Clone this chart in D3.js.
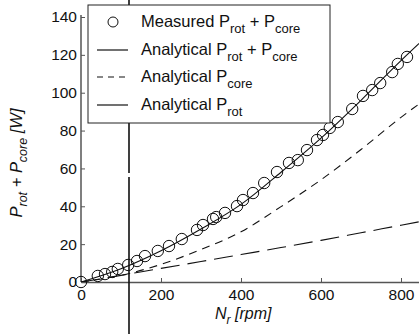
<!DOCTYPE html>
<html><head><meta charset="utf-8">
<script src="https://cdn.jsdelivr.net/npm/d3@7"></script>
<style>body{margin:0;background:#fff}svg{display:block}text{font-family:"Liberation Sans",Arial,sans-serif;fill:#111}</style>
</head><body><svg id="c" width="419" height="334"></svg>
<script>
// Measured points (rpm, W)
const measRpm = [0,42,60,78,92,118,140,160,192,220,252,290,305,330,338,360,390,405,430,458,490,520,542,565,590,605,622,642,678,705,728,748,778,792,815];
const measW   = [0,3.2,4.2,5.3,6.9,9.0,11.1,13.7,16.4,19.0,22.7,27.5,30.1,33.3,34.3,36.5,40.1,43.3,47.0,52.3,58.1,62.9,64.4,69.7,75.0,77.7,81.4,84.5,91.4,98.3,101.4,105.1,110.9,115.2,118.9];
// Analytical curves read at these speeds
const curveRpm  = [0,100,200,300,400,500,600,700,800,845];
const totalW    = [0,7,16.5,28,41,58,76,96,117,126];
const coreW     = [0,3.5,9.3,17.2,26.5,39.8,54,70,87,94];
const rotW      = [0,3.5,7.2,10.8,14.5,18.2,22,26,30,31.8];
const xTicks = [0,200,400,600,800];
const yTicks = [0,20,40,60,80,100,120,140];

const svg = d3.select("#c");
const x = d3.scaleLinear().domain([0,845]).range([81,419]);
const y = d3.scaleLinear().domain([0,140]).range([282,17]);
const axisColor = "#555";

// axes
const gx = svg.append("g").attr("transform","translate(0,282)")
  .call(d3.axisBottom(x).tickValues(xTicks).tickSize(-4).tickPadding(7).tickSizeOuter(0));
const gy = svg.append("g").attr("transform","translate(81,0)")
  .call(d3.axisLeft(y).tickValues(yTicks).tickSize(-4).tickPadding(4).tickSizeOuter(0));
[gx,gy].forEach(g=>{
  g.select(".domain").attr("stroke",axisColor).attr("stroke-width",1.5);
  g.selectAll(".tick line").attr("stroke",axisColor);
  g.selectAll(".tick text").attr("font-size",15.5).attr("fill","#111")
    .attr("font-family","Liberation Sans, Arial, sans-serif");
});
gy.select(".domain").attr("d","M0,282V15");

// scan artifact vertical line
svg.append("line").attr("x1",x(120)).attr("x2",x(120)).attr("y1",0).attr("y2",334)
  .attr("stroke","#111").attr("stroke-width",1.6).attr("stroke-dasharray","120,3,50,4,200");

const clip = svg.append("clipPath").attr("id","pc").append("rect")
  .attr("x",81).attr("y",0).attr("width",338).attr("height",282);
const plot = svg.append("g").attr("clip-path","url(#pc)");
const line = arr => d3.line().x((d,i)=>x(curveRpm[i])).y(d=>y(d)).curve(d3.curveMonotoneX)(arr);

plot.append("path").attr("d",line(rotW)).attr("fill","none").attr("stroke","#111").attr("stroke-width",1.1).attr("stroke-dasharray","19,8");
plot.append("path").attr("d",line(coreW)).attr("fill","none").attr("stroke","#111").attr("stroke-width",1.1).attr("stroke-dasharray","8,6");
plot.append("path").attr("d",line(totalW)).attr("fill","none").attr("stroke","#111").attr("stroke-width",1.1);
svg.append("g").selectAll("circle").data(measRpm).join("circle")
  .attr("cx",d=>x(d)).attr("cy",(d,i)=>y(measW[i])).attr("r",5.7)
  .attr("fill","none").attr("stroke","#111").attr("stroke-width",1);

// legend
const lg = svg.append("g");
lg.append("rect").attr("x",88).attr("y",5).attr("width",242).attr("height",118)
  .attr("fill","#fff").attr("stroke","#222").attr("stroke-width",1);
const rows = [
  {y:22, main:"Measured P", sub1:"rot", mid:" + P", sub2:"core", type:"circle"},
  {y:50, main:"Analytical P", sub1:"rot", mid:" + P", sub2:"core", type:"solid"},
  {y:77, main:"Analytical P", sub1:"core", type:"dash"},
  {y:105, main:"Analytical P", sub1:"rot", type:"solid"}
];
rows.forEach(r=>{
  if(r.type==="circle"){
    lg.append("circle").attr("cx",113).attr("cy",r.y).attr("r",5).attr("fill","none").attr("stroke","#111");
  } else {
    lg.append("line").attr("x1",97).attr("x2",128).attr("y1",r.y).attr("y2",r.y)
      .attr("stroke","#111").attr("stroke-width",1.2).attr("stroke-dasharray",r.type==="dash"?"6,5":null);
  }
  const t = lg.append("text").attr("x",141).attr("y",r.y+5).attr("font-size",16.5);
  t.append("tspan").text(r.main);
  t.append("tspan").attr("dy",6).attr("font-size",13).text(r.sub1);
  if(r.mid){
    t.append("tspan").attr("dy",-6).text(r.mid);
    t.append("tspan").attr("dy",6).attr("font-size",13).text(r.sub2);
  }
});

// axis labels
const xl = svg.append("text").attr("x",215).attr("y",319).attr("font-size",16).attr("font-style","italic");
xl.append("tspan").text("N");
xl.append("tspan").attr("dy",5).attr("font-size",12).text("r");
xl.append("tspan").attr("dy",-5).text(" [rpm]");

const yl = svg.append("text").attr("transform","translate(22,163) rotate(-90)")
  .attr("text-anchor","middle").attr("font-size",16.5).attr("font-style","italic");
yl.append("tspan").text("P");
yl.append("tspan").attr("dy",5).attr("font-size",12.5).text("rot");
yl.append("tspan").attr("dy",-5).text(" + P");
yl.append("tspan").attr("dy",5).attr("font-size",12.5).text("core");
yl.append("tspan").attr("dy",-5).text(" [W]");
</script></body></html>
